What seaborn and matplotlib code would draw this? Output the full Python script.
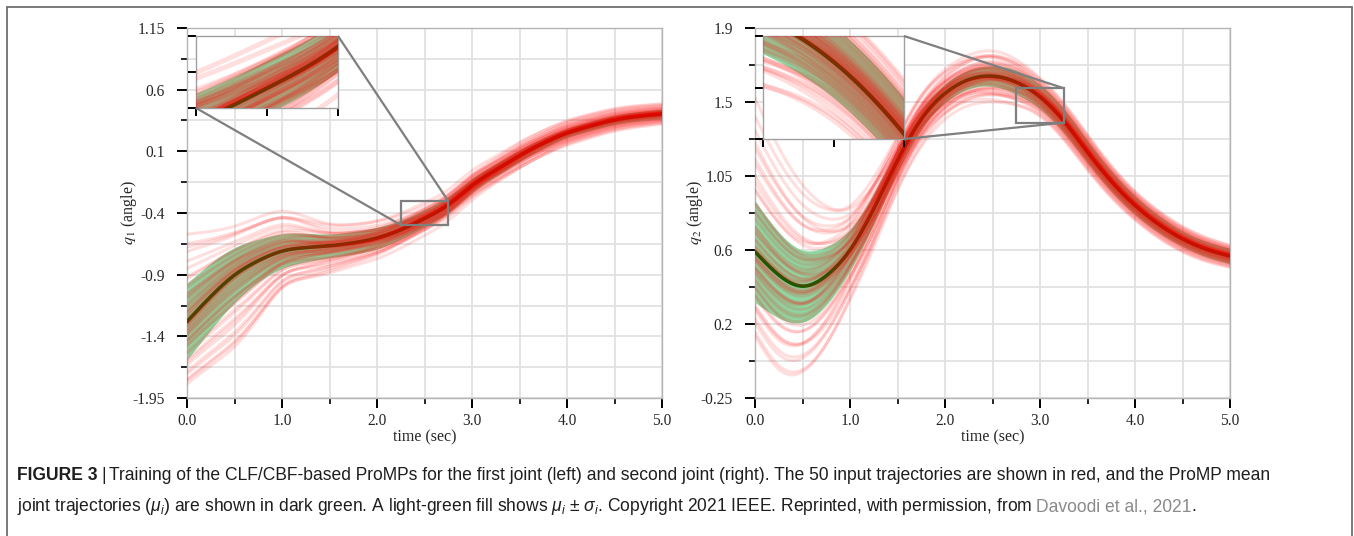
import numpy as np
import pandas as pd
import matplotlib
matplotlib.use("Agg")
import matplotlib.pyplot as plt
import seaborn as sns
from matplotlib.lines import Line2D
from mpl_toolkits.axes_grid1.inset_locator import mark_inset

# ---------------------------------------------------------------- data
TIME_KNOTS = [0.0, 0.25, 0.5, 0.75, 1.0, 1.25, 1.5, 1.75, 2.0, 2.25, 2.5,
              2.75, 3.0, 3.25, 3.5, 3.75, 4.0, 4.25, 4.5, 4.75, 5.0]

# joint 1: ProMP mean / std and envelope of the demonstrations
q1_mean = [-1.31, -1.10, -0.92, -0.80, -0.72, -0.69, -0.675, -0.65, -0.61, -0.54, -0.445,
           -0.33, -0.17, -0.04, 0.08, 0.185, 0.27, 0.33, 0.38, 0.41, 0.43]
q1_std = [0.32, 0.28, 0.23, 0.18, 0.145, 0.12, 0.10, 0.095, 0.09, 0.08, 0.075,
          0.07, 0.06, 0.055, 0.05, 0.045, 0.04, 0.04, 0.04, 0.04, 0.04]
q1_spread_up = [0.74, 0.55, 0.41, 0.36, 0.33, 0.25, 0.17, 0.14, 0.12, 0.10, 0.08,
                0.06, 0.05, 0.03, 0.02, 0.01, 0.0, 0.0, 0.0, 0.0, 0.0]
q1_spread_down = [0.52, 0.58, 0.60, 0.48, 0.31, 0.25, 0.21, 0.17, 0.14, 0.11, 0.09,
                  0.07, 0.05, 0.03, 0.02, 0.01, 0.0, 0.0, 0.0, 0.0, 0.0]
q1_spread_late = [0.02, 0.02, 0.02, 0.03, 0.03, 0.04, 0.05, 0.05, 0.06, 0.07, 0.08,
                  0.09, 0.10, 0.105, 0.11, 0.11, 0.11, 0.105, 0.10, 0.095, 0.09]
q1_early_factor = [0.98, 0.90, 0.84, 0.77, 0.69, 0.60, 0.52, 0.47, 0.42, 0.38,
                   0.34, 0.31, 0.28, 0.25, 0.22, 0.19, 0.16, 0.14, 0.12, 0.10,
                   0.08, 0.06, 0.04, 0.02, 0.00, -0.02, -0.04, -0.06, -0.08, -0.10,
                   -0.12, -0.15, -0.18, -0.21, -0.24, -0.27, -0.30, -0.34, -0.38, -0.42,
                   -0.47, -0.53, -0.59, -0.65, -0.72, -0.79, -0.85, -0.90, -0.95, -1.00]
q1_late_factor = [0.35, -0.62, 0.10, 0.88, -0.20, 0.05, -0.45, 0.52, -0.08, 0.22,
                  -0.95, 0.15, -0.30, 0.70, 0.02, -0.12, 0.40, -0.55, 0.08, -0.03,
                  0.28, -0.38, 0.60, -0.15, 0.12, -0.70, 0.18, -0.05, 0.95, -0.25,
                  0.06, -0.48, 0.32, -0.10, 0.45, -0.85, 0.00, 0.25, -0.18, 0.78,
                  -0.35, 0.14, -0.60, 0.04, 0.55, -0.22, 0.20, -0.78, 0.10, -0.01]

# joint 2
q2_mean = [0.60, 0.465, 0.40, 0.46, 0.61, 0.85, 1.13, 1.37, 1.52, 1.60, 1.62,
           1.585, 1.50, 1.36, 1.18, 1.01, 0.87, 0.76, 0.675, 0.615, 0.575]
q2_std = [0.295, 0.25, 0.21, 0.17, 0.12, 0.09, 0.07, 0.06, 0.055, 0.055, 0.06,
          0.07, 0.07, 0.07, 0.065, 0.06, 0.055, 0.05, 0.045, 0.045, 0.045]
q2_spread_up = [0.90, 0.75, 0.60, 0.42, 0.26, 0.16, 0.10, 0.08, 0.06, 0.045, 0.03,
                0.015, 0.0, 0.0, 0.0, 0.0, 0.0, 0.0, 0.0, 0.0, 0.0]
q2_spread_down = [0.49, 0.55, 0.50, 0.40, 0.28, 0.20, 0.13, 0.09, 0.06, 0.045, 0.03,
                  0.015, 0.0, 0.0, 0.0, 0.0, 0.0, 0.0, 0.0, 0.0, 0.0]
q2_spread_late = [0.02, 0.03, 0.04, 0.05, 0.06, 0.08, 0.10, 0.12, 0.13, 0.14, 0.15,
                  0.14, 0.12, 0.115, 0.11, 0.10, 0.09, 0.085, 0.08, 0.075, 0.07]
q2_early_factor = [1.00, 0.86, 0.78, 0.72, 0.66, 0.60, 0.55, 0.50, 0.45, 0.41,
                   0.37, 0.33, 0.30, 0.27, 0.24, 0.21, 0.18, 0.15, 0.13, 0.11,
                   0.09, 0.07, 0.05, 0.03, 0.01, -0.01, -0.03, -0.05, -0.07, -0.09,
                   -0.11, -0.13, -0.16, -0.19, -0.22, -0.25, -0.28, -0.32, -0.36, -0.40,
                   -0.44, -0.49, -0.54, -0.60, -0.66, -0.72, -0.78, -0.85, -0.93, -1.00]
q2_late_factor = [-0.30, 0.55, 0.12, -0.80, 0.25, -0.05, 0.68, -0.40, 0.02, -0.15,
                  0.90, -0.60, 0.18, -0.22, 0.40, 0.08, -0.95, 0.30, -0.10, 0.50,
                  -0.35, 0.05, -0.70, 0.20, -0.02, 0.75, -0.45, 0.15, -0.18, 0.35,
                  -0.08, 0.60, -0.55, 0.00, 0.28, -0.25, 0.85, -0.12, 0.10, -0.65,
                  0.45, -0.38, 0.22, -0.88, 0.04, 0.62, -0.28, 0.16, -0.50, 0.07]

X_TICK_LABELS = ["0.0", "1.0", "2.0", "3.0", "4.0", "5.0"]
Q1_LIMITS = (-1.95, 1.15)
Q1_TICK_LABELS = ["-1.95", "-1.4", "-0.9", "-0.4", "0.1", "0.6", "1.15"]
Q2_LIMITS = (-0.25, 1.9)
Q2_TICK_LABELS = ["-0.25", "0.2", "0.6", "1.05", "1.5", "1.9"]
Q1_ZOOM = ((2.25, 2.75), (-0.5, -0.3))
Q2_ZOOM = ((2.75, 3.25), (1.35, 1.55))

# ---------------------------------------------------------------- style
sns.set_style("white")
plt.rcParams["font.family"] = ["Liberation Serif", "DejaVu Serif"]
plt.rcParams["mathtext.fontset"] = "custom"
plt.rcParams["mathtext.rm"] = "Liberation Sans"
plt.rcParams["mathtext.it"] = "Liberation Sans:italic"
plt.rcParams["mathtext.bf"] = "Liberation Sans:bold"

W, H = 1354, 536
fig = plt.figure(figsize=(W / 100, H / 100), dpi=100)
fig.patch.set_facecolor("white")

RED = "#ff0000"
FILL = "#8fd6a2"
MEAN = "#006400"


def smooth(xk, yk, x):
    """Natural cubic spline through the knots."""
    xk = np.asarray(xk, float)
    yk = np.asarray(yk, float)
    n = len(xk)
    h = np.diff(xk)
    A = np.zeros((n, n))
    r = np.zeros(n)
    A[0, 0] = A[-1, -1] = 1.0
    for i in range(1, n - 1):
        A[i, i - 1] = h[i - 1]
        A[i, i] = 2 * (h[i - 1] + h[i])
        A[i, i + 1] = h[i]
        r[i] = 6 * ((yk[i + 1] - yk[i]) / h[i] - (yk[i] - yk[i - 1]) / h[i - 1])
    M = np.linalg.solve(A, r)
    idx = np.clip(np.searchsorted(xk, x) - 1, 0, n - 2)
    x0, x1 = xk[idx], xk[idx + 1]
    hh = x1 - x0
    a = (x1 - x) / hh
    b = (x - x0) / hh
    return a * yk[idx] + b * yk[idx + 1] + ((a ** 3 - a) * M[idx] + (b ** 3 - b) * M[idx + 1]) * hh ** 2 / 6


def build(mean, std, up, down, late, early_f, late_f):
    t = np.linspace(0.0, 5.0, 401)
    m = smooth(TIME_KNOTS, mean, t)
    s = smooth(TIME_KNOTS, std, t)
    up_s = smooth(TIME_KNOTS, up, t)
    down_s = smooth(TIME_KNOTS, down, t)
    late_s = smooth(TIME_KNOTS, late, t)
    frames = []
    for k, (a, b) in enumerate(zip(early_f, late_f)):
        env = up_s if a >= 0 else down_s
        frames.append(pd.DataFrame({"time": t, "angle": m + a * env + b * late_s, "trial": k}))
    return t, m, s, pd.concat(frames, ignore_index=True)


def draw_layers(ax, t, m, s, demos, lw_red, lw_mean):
    ax.fill_between(t, m - s, m + s, color=FILL, alpha=1.0, lw=0, zorder=2)
    sns.lineplot(x=t, y=m, color=MEAN, lw=lw_mean, ax=ax, zorder=3, sort=False)
    sns.lineplot(data=demos, x="time", y="angle", units="trial", estimator=None,
                 color=RED, alpha=0.13, lw=lw_red, ax=ax, zorder=4, legend=False, sort=False)


def style_main(ax, ylims, ylabels, qname, label_x):
    ax.set_xlim(0, 5)
    ax.set_ylim(*ylims)
    ax.set_xticks(np.arange(6))
    ax.set_xticklabels(X_TICK_LABELS)
    ax.set_xticks(np.arange(0.5, 5, 1.0), minor=True)
    yt = np.linspace(ylims[0], ylims[1], len(ylabels))
    ax.set_yticks(yt)
    ax.set_yticklabels(ylabels)
    ax.set_yticks((yt[:-1] + yt[1:]) / 2, minor=True)
    ax.grid(True, which="both", color="#e2e2e2", lw=1.3)
    ax.set_axisbelow(True)
    for sp in ax.spines.values():
        sp.set_color("#b4b4b4")
        sp.set_linewidth(1.0)
    ax.tick_params(which="major", direction="out", length=7, width=1.4, color="black",
                   labelsize=11.2, left=True, bottom=True)
    ax.tick_params(axis="x", which="major", pad=4)
    ax.tick_params(axis="y", which="major", pad=9)
    ax.tick_params(which="minor", direction="out", length=4, width=1.2, color="black",
                   left=True, bottom=True)
    ax.set_xlabel("time (sec)", fontsize=11.5, labelpad=0)
    ax.set_ylabel(qname + " (angle)", fontsize=11.5)
    ax.yaxis.label.set_math_fontfamily("stix")
    ax.yaxis.set_label_coords(label_x, 0.5)


def style_inset(axins, zoom):
    (x0, x1), (y0, y1) = zoom
    axins.set_xlim(x0, x1)
    axins.set_ylim(y0, y1)
    axins.set_xticks(np.linspace(x0, x1, 3))
    axins.set_yticks(np.linspace(y0, y1, 3))
    axins.set_xticklabels([])
    axins.set_yticklabels([])
    axins.set_facecolor("white")
    axins.grid(False)
    for sp in axins.spines.values():
        sp.set_color("#a0a0a0")
        sp.set_linewidth(1.0)
    axins.tick_params(direction="out", length=6, width=1.4, color="black",
                      left=True, bottom=True)
    axins.set_xlabel("")
    axins.set_ylabel("")


def px_box(x0, y0, x1, y1):
    return [x0 / W, 1 - y1 / H, (x1 - x0) / W, (y1 - y0) / H]


panels = [
    (px_box(187, 28, 662, 398), px_box(196, 36, 338, 108), Q1_LIMITS, Q1_TICK_LABELS, "$q_1$",
     build(q1_mean, q1_std, q1_spread_up, q1_spread_down, q1_spread_late,
           q1_early_factor, q1_late_factor), Q1_ZOOM, (1, 3), -0.102),
    (px_box(755, 28, 1230, 398), px_box(763, 36, 904, 139), Q2_LIMITS, Q2_TICK_LABELS, "$q_2$",
     build(q2_mean, q2_std, q2_spread_up, q2_spread_down, q2_spread_late,
           q2_early_factor, q2_late_factor), Q2_ZOOM, (1, 4), -0.106),
]

for main_box, ins_box, ylims, ylabels, qname, (t, m, s, demos), zoom, locs, lab_x in panels:
    ax = fig.add_axes(main_box)
    draw_layers(ax, t, m, s, demos, lw_red=2.2, lw_mean=2.6)
    style_main(ax, ylims, ylabels, qname, lab_x)
    axins = fig.add_axes(ins_box)
    draw_layers(axins, t, m, s, demos, lw_red=3.6, lw_mean=3.0)
    style_inset(axins, zoom)
    parts = mark_inset(ax, axins, loc1=locs[0], loc2=locs[1], fc="none", ec="#7f7f7f", lw=1.6)
    for p in parts:
        p.set_zorder(6)

# ---------------------------------------------------------------- caption
SANS = ["Liberation Sans", "DejaVu Sans"]
CAP_SIZE = 12.65
INK = "#1e1e1e"
renderer = fig.canvas.get_renderer()


def put(x_px, y_px, s, **kw):
    txt = fig.text(x_px / W, 1 - y_px / H, s, family=SANS, fontsize=CAP_SIZE,
                   va="baseline", ha="left", math_fontfamily="custom", **kw)
    return txt.get_window_extent(renderer).x1


x = put(17, 480, "FIGURE 3", weight="bold", color=INK)
x = put(x + 4, 480, "|", color=INK)
put(x + 3, 480, "Training of the CLF/CBF-based ProMPs for the first joint (left) and second joint "
    "(right). The 50 input trajectories are shown in red, and the ProMP mean", color=INK)
x = put(17, 511, r"joint trajectories ($\mu_i$) are shown in dark green. A light-green fill shows "
        r"$\mu_i$ ± $\sigma_i$. Copyright 2021 IEEE. Reprinted, with permission, from",
        color=INK)
x = put(x + 4, 511, "Davoodi et al., 2021", color="#8a8a8a")
put(x, 511, ".", color=INK)

# frame around the figure panel
for xs, ys in [([7, 7], [H, 7]), ([7, 1352], [7, 7]), ([1352, 1352], [7, H])]:
    fig.add_artist(Line2D([v / W for v in xs], [1 - v / H for v in ys],
                          transform=fig.transFigure, color="#707070", lw=1.3))

fig.savefig("out.png", dpi=100, facecolor="white")
